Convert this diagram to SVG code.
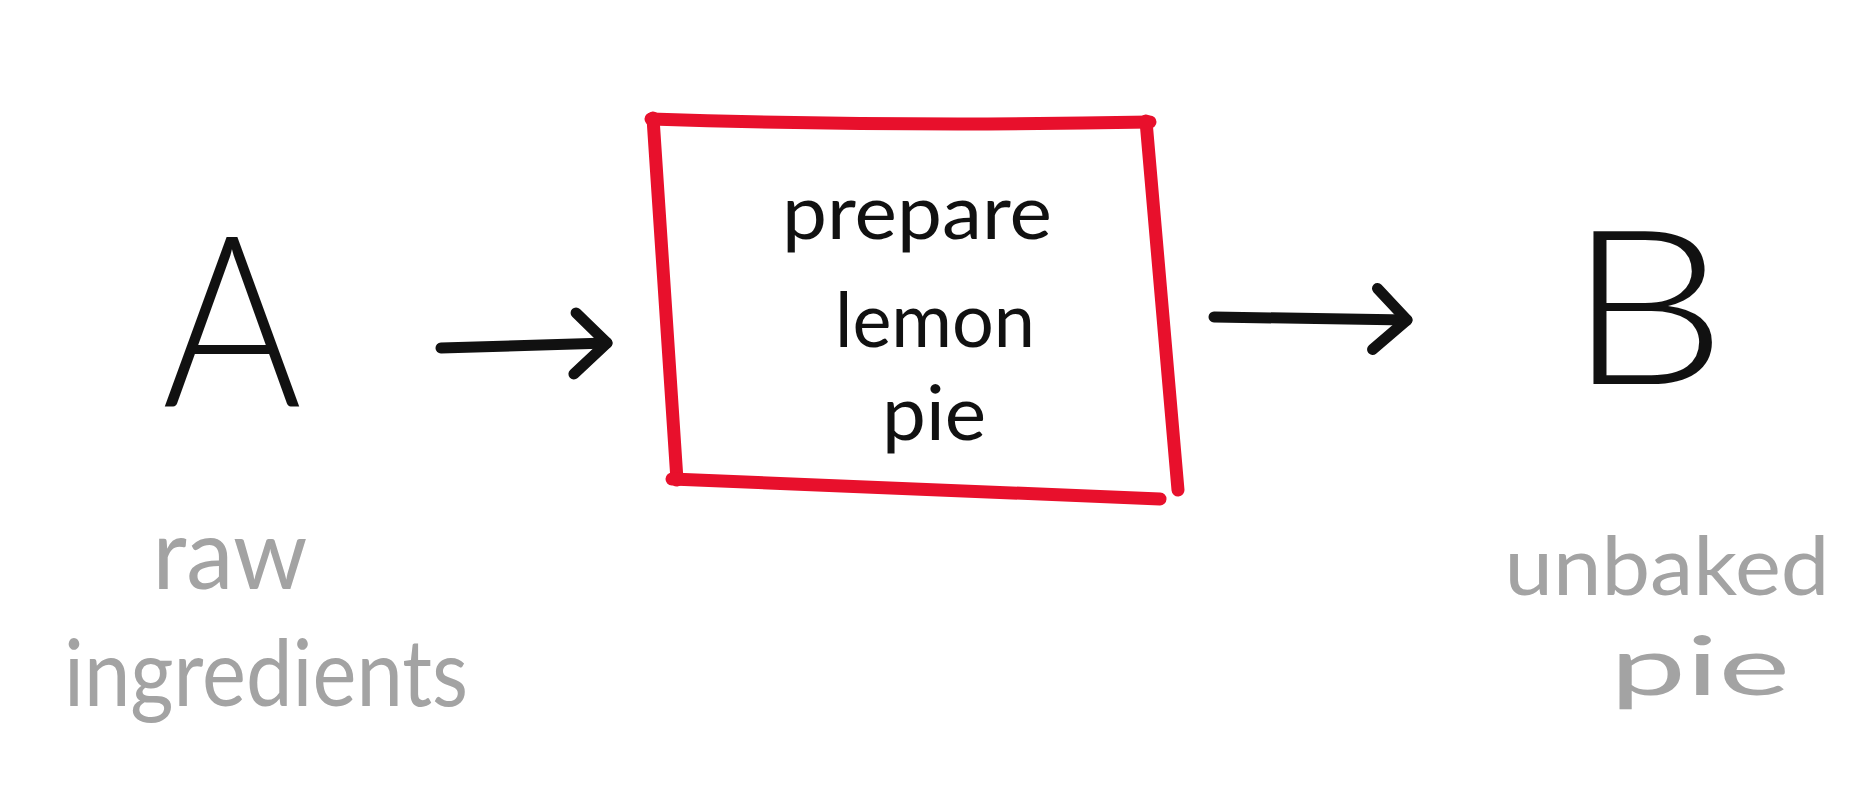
<svg xmlns="http://www.w3.org/2000/svg" width="1872" height="792" viewBox="0 0 1872 792">
<style>
.big{font-family:Lato,"Liberation Sans",sans-serif;font-weight:300;fill:#111;}
.inbox{font-family:Lato,"Liberation Sans",sans-serif;font-weight:400;fill:#111;font-size:76px;}
.note{font-family:Lato,"Liberation Sans",sans-serif;font-weight:400;fill:#a3a3a3;}
.edge{fill:none;stroke:#111;stroke-width:11;stroke-linecap:round;stroke-linejoin:round;}
.box{fill:none;stroke:#e8102c;stroke-width:13;stroke-linecap:round;}
</style>
<defs>
<marker id="chev" markerUnits="userSpaceOnUse" markerWidth="70" markerHeight="80" viewBox="0 0 70 80" refX="50" refY="40" orient="auto" overflow="visible">
<path d="M20,9 L50,40 L16,70" fill="none" stroke="#111" stroke-width="11" stroke-linecap="round" stroke-linejoin="round"/>
</marker>
</defs>
<rect width="1872" height="792" fill="#fff"/>
<g id="connectors">
<path class="edge" d="M441,348 L607,343" marker-end="url(#chev)"/>
<path class="edge" d="M1214,317 L1407,320" marker-end="url(#chev)"/>
</g>
<g id="nodeA">
<text class="big" x="232" y="406" font-size="239" text-anchor="middle" textLength="140" lengthAdjust="spacingAndGlyphs">A</text>
<text class="note" x="230" y="589" font-size="98" text-anchor="middle" textLength="155" lengthAdjust="spacingAndGlyphs">raw</text>
<text class="note" x="266" y="706" font-size="94" text-anchor="middle" textLength="404" lengthAdjust="spacingAndGlyphs">ingredients</text>
</g>
<g id="process">
<path class="box" d="M651,119 Q900,127 1150,122"/>
<path class="box" d="M1146,121 L1178,490"/>
<path class="box" d="M653,118 L677,480"/>
<path class="box" d="M672,479 Q920,489 1160,499"/>
<text class="inbox" x="917" y="239" text-anchor="middle" textLength="270" lengthAdjust="spacingAndGlyphs">prepare</text>
<text class="inbox" x="935" y="347" text-anchor="middle" textLength="200" lengthAdjust="spacingAndGlyphs">lemon</text>
<text class="inbox" x="934" y="440" text-anchor="middle" textLength="104" lengthAdjust="spacingAndGlyphs">pie</text>
</g>
<g id="nodeB">
<text class="big" x="1647" y="384" font-size="216" text-anchor="middle" textLength="160" lengthAdjust="spacingAndGlyphs">B</text>
<text class="note" x="1667" y="595" font-size="82" text-anchor="middle" textLength="325" lengthAdjust="spacingAndGlyphs">unbaked</text>
<text class="note" x="1700" y="695" font-size="82" text-anchor="middle" textLength="180" lengthAdjust="spacingAndGlyphs">pie</text>
</g>
</svg>
